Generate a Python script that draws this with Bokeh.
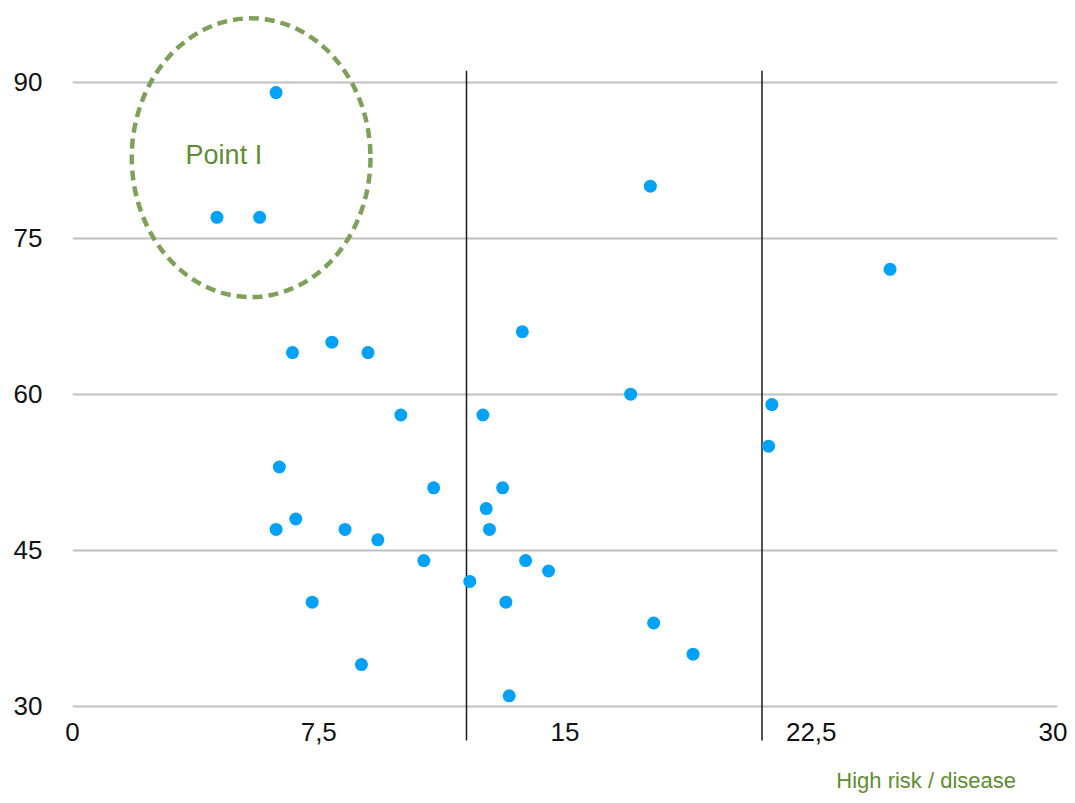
from bokeh.plotting import figure
from bokeh.models import FixedTicker, CustomJSTickFormatter, Label, Range1d, Ellipse, ColumnDataSource
from bokeh.embed import file_html
from bokeh.resources import INLINE

# ---- data ----
x_vals = [6.2, 4.4, 5.7, 17.6, 24.9, 6.7, 7.9, 9.0, 13.7, 17.0, 10.0, 12.5, 21.3, 21.2,
          6.3, 11.0, 13.1, 12.6, 6.2, 6.8, 8.3, 9.3, 12.7, 10.7, 13.8, 14.5, 12.1, 7.3,
          13.2, 17.7, 18.9, 8.8, 13.3]
y_vals = [89, 77, 77, 80, 72, 64, 65, 64, 66, 60, 58, 58, 59, 55,
          53, 51, 51, 49, 47, 48, 47, 46, 47, 44, 44, 43, 42, 40,
          40, 38, 35, 34, 31]
thresholds = [12, 21]
threshold_top = [91.1, 91.1]
threshold_bottom = [26.7, 26.7]
x_ticks = [0, 7.5, 15, 22.5, 30]
y_ticks = [30, 45, 60, 75, 90]
group_x = [5.44]
group_y = [82.74]
group_w = [7.27]
group_h = [26.8]
group_label = ["Point I"]
group_label_x = [4.61]
group_label_y = [83.0]
axis_note = ["High risk / disease"]
axis_note_x = [26.0]
axis_note_y = [22.85]

GREEN_LINE = "#7DA05A"
GREEN_TEXT = "#5E8D31"
BLUE = "#03A2F9"
FONT = "Liberation Sans"

p = figure(width=1067, height=795, output_backend="svg", toolbar_location=None,
           x_range=Range1d(0, 30), y_range=Range1d(21.51, 96.89),
           min_border_left=72, min_border_right=10, min_border_top=10, min_border_bottom=1)
p.outline_line_color = None
p.background_fill_color = "white"
p.border_fill_color = "white"

# grid
p.xgrid.visible = False
p.ygrid.ticker = FixedTicker(ticks=y_ticks)
p.ygrid.grid_line_color = "#C0C0C0"
p.ygrid.grid_line_width = 2

# axes
for ax in (p.xaxis, p.yaxis):
    ax.axis_line_color = None
    ax.major_tick_line_color = None
    ax.minor_tick_line_color = None
    ax.major_tick_out = 0
    ax.major_tick_in = 0
    ax.major_label_text_font = FONT
    ax.major_label_text_font_size = "26px"
    ax.major_label_text_color = "#111111"
p.xaxis.ticker = FixedTicker(ticks=x_ticks)
p.yaxis.ticker = FixedTicker(ticks=y_ticks)
p.xaxis.formatter = CustomJSTickFormatter(code="return tick.toString().replace('.', ',');")
p.xaxis.major_label_standoff = -72
p.yaxis.major_label_standoff = 30

# threshold lines
p.segment(x0=thresholds, y0=threshold_bottom, x1=thresholds, y1=threshold_top,
          line_color="#1a1a1a", line_width=1.5)

# highlighted group ellipse
esrc = ColumnDataSource(dict(x=group_x, y=group_y, w=group_w, h=group_h))
p.add_glyph(esrc, Ellipse(x="x", y="y", width="w", height="h", fill_color=None,
                          line_color=GREEN_LINE, line_width=4.5, line_dash="10 6"))

# points
p.scatter(x_vals, y_vals, size=13, fill_color=BLUE, line_color=None)

# labels
p.add_layout(Label(x=group_label_x[0], y=group_label_y[0], text=group_label[0],
                   text_font=FONT, text_font_size="27px", text_color=GREEN_TEXT,
                   text_align="center", text_baseline="alphabetic"))
p.add_layout(Label(x=axis_note_x[0], y=axis_note_y[0], text=axis_note[0],
                   text_font=FONT, text_font_size="22px", text_color=GREEN_TEXT,
                   text_align="center", text_baseline="alphabetic"))

open("out.html", "w").write(file_html(p, INLINE))
